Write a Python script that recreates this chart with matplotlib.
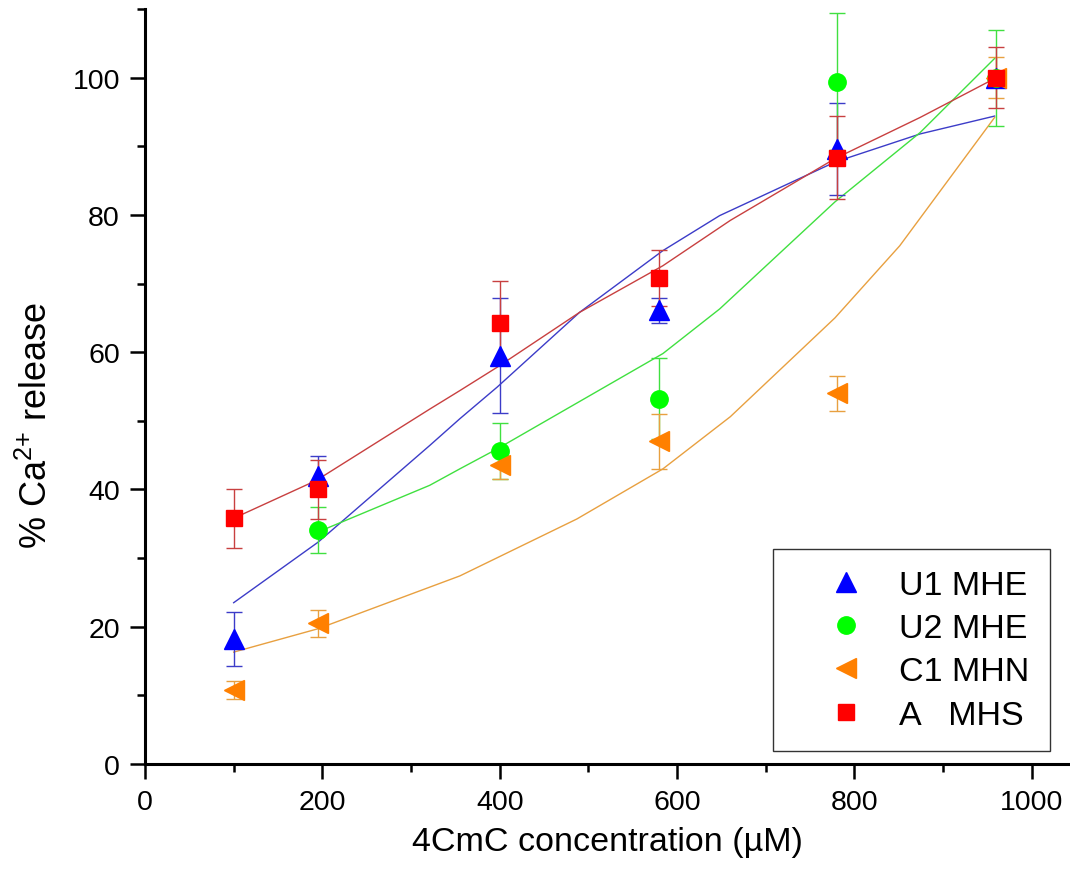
import matplotlib
matplotlib.use('Agg')
import matplotlib.pyplot as plt
from matplotlib.ticker import MultipleLocator

plt.rcParams['font.family'] = ['Liberation Sans', 'DejaVu Sans']
plt.rcParams['mathtext.fontset'] = 'custom'
plt.rcParams['mathtext.rm'] = 'Liberation Sans'

# measured points (mean +- error)
x_u1 = [100, 195, 400, 580, 780, 960]
y_u1 = [18.2, 42.0, 59.5, 66.1, 89.6, 100.0]
e_u1 = [3.9, 2.9, 8.4, 1.8, 6.7, 0.0]

x_u2 = [195, 400, 580, 780, 960]
y_u2 = [34.1, 45.6, 53.2, 99.4, 100.0]
e_u2 = [3.4, 4.1, 5.9, 10.0, 7.0]

x_c1 = [100, 195, 400, 580, 780, 960]
y_c1 = [10.8, 20.5, 43.6, 47.0, 54.0, 100.0]
e_c1 = [1.35, 2.0, 2.1, 4.0, 2.5, 3.0]

x_a = [100, 195, 400, 580, 780, 960]
y_a = [35.8, 40.0, 64.3, 70.8, 88.3, 100.0]
e_a = [4.3, 4.3, 6.0, 4.1, 6.05, 4.4]

# fitted curves
fx_u1 = [100, 195, 321, 355, 397, 490, 584, 648, 778, 874, 958]
fy_u1 = [23.5, 32.3, 46.4, 50.3, 54.9, 65.8, 74.8, 79.9, 87.7, 91.8, 94.4]

fx_u2 = [195, 321, 355, 397, 584, 648, 778, 874, 958]
fy_u2 = [33.8, 40.6, 43.0, 45.9, 59.8, 66.3, 81.9, 92.0, 102.8]

fx_c1 = [100, 195, 355, 487, 584, 660, 778, 851, 958]
fy_c1 = [16.3, 19.7, 27.4, 35.7, 43.0, 50.6, 65.0, 75.5, 94.2]

fx_a = [100, 193, 321, 355, 397, 490, 584, 660, 778, 874, 960]
fy_a = [35.8, 41.3, 51.7, 54.4, 57.8, 65.8, 72.6, 79.2, 88.2, 94.2, 100.0]

labels = ['U1 MHE', 'U2 MHE', 'C1 MHN', 'A   MHS']

fig = plt.figure(figsize=(10.7, 8.7), dpi=100)
ax = fig.add_axes([0.1355, 0.1207, 0.8645, 0.8678])

ax.plot(fx_u1, fy_u1, color='#3c3cc8', lw=1.0, zorder=1)
ax.plot(fx_u2, fy_u2, color='#40e040', lw=1.0, zorder=1)
ax.plot(fx_c1, fy_c1, color='#e8a040', lw=1.0, zorder=1)
ax.plot(fx_a, fy_a, color='#c84040', lw=1.0, zorder=1)

series = [
    (x_u1, y_u1, e_u1, '^', 14, '#0000ff', '#3c3cc8'),
    (x_u2, y_u2, e_u2, 'o', 12.5, '#00ff00', '#40e040'),
    (x_c1, y_c1, e_c1, '<', 14, '#ff8000', '#e8a040'),
    (x_a, y_a, e_a, 's', 11, '#ff0000', '#c84040'),
]
handles = []
for (xs, ys, es, m, ms, c, ec), lab in zip(series, labels):
    ax.errorbar(xs, ys, yerr=es, fmt='none', ecolor=ec, elinewidth=1.0,
                capsize=5.5, capthick=1.0, zorder=2)
    h, = ax.plot(xs, ys, ls='none', marker=m, ms=ms, color=c, mec=c,
                 zorder=3, label=lab)
    handles.append(h)

ax.set_xlim(0, 1043)
ax.set_ylim(0, 110)
ax.xaxis.set_major_locator(MultipleLocator(200))
ax.xaxis.set_minor_locator(MultipleLocator(100))
ax.yaxis.set_major_locator(MultipleLocator(20))
ax.yaxis.set_minor_locator(MultipleLocator(10))

for s in ['top', 'right']:
    ax.spines[s].set_visible(False)
for s in ['left', 'bottom']:
    ax.spines[s].set_linewidth(2.2)

ax.tick_params(which='major', direction='out', length=11, width=1.8,
               labelsize=20.5, pad=7)
ax.tick_params(which='minor', direction='out', length=6, width=1.8)

ax.set_xlabel('4CmC concentration (\u00b5M)', fontsize=24.5, labelpad=8)
ax.set_ylabel('% Ca$^{2{+}}$ release', fontsize=26)
ax.yaxis.set_label_coords(-0.097, 0.45)

leg = ax.legend(handles=handles, loc='lower left',
                bbox_to_anchor=(0.679, 0.0172), fontsize=24.5,
                frameon=True, fancybox=False, borderpad=0.6,
                labelspacing=0.36, handlelength=3.1, handletextpad=0.0,
                borderaxespad=0, markerscale=1.0)
leg.get_frame().set_edgecolor('black')
leg.get_frame().set_linewidth(1.0)

fig.savefig('out.png', dpi=100)
